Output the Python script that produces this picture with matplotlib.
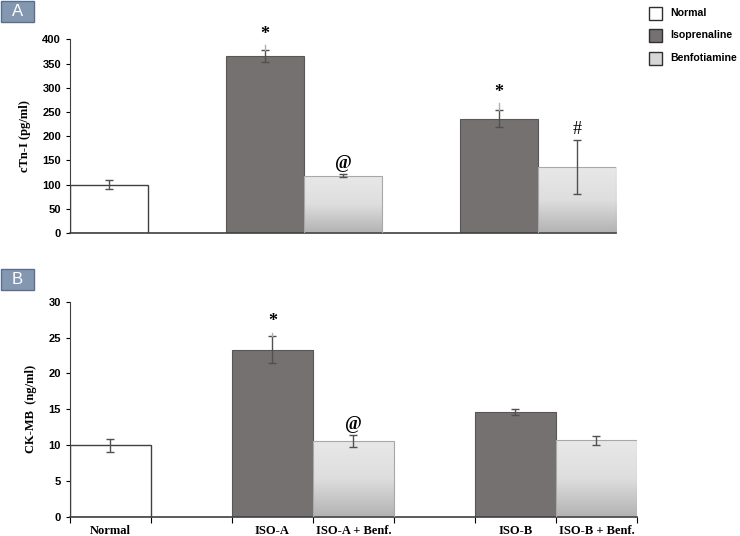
import numpy as np
import matplotlib.pyplot as plt
from matplotlib.patches import Rectangle
from matplotlib.colors import LinearSegmentedColormap

# data
groups = ['Normal', '', 'ISO-A', 'ISO-A + Benf.', '', 'ISO-B', 'ISO-B + Benf.']
kinds = ['normal', None, 'iso', 'benf', None, 'iso', 'benf']

ctni_vals = [100, 0, 365, 118, 0, 236, 136]
ctni_err = [10, 0, 12, 3, 0, 17, 56]
ctni_whisker_top = [0, 0, 389, 0, 0, 269, 0]   # faint upper line above the cap
ctni_marks = ['', '', '*', '@', '', '*', '#']

ckmb_vals = [10.0, 0, 23.3, 10.6, 0, 14.6, 10.7]
ckmb_err = [0.9, 0, 1.9, 0.85, 0, 0.45, 0.65]
ckmb_whisker_top = [0, 0, 25.7, 0, 0, 0, 0]
ckmb_marks = ['', '', '*', '@', '', '', '']

legend_labels = ['Normal', 'Isoprenaline', 'Benfotiamine']

iso_color = '#767171'
edge_color = '#404040'
box_color = '#8497b0'
benf_cmap = LinearSegmentedColormap.from_list('benf', ['#e8e8e8', '#dedede', '#b2b2b2'])

serif = ['Liberation Serif', 'DejaVu Serif']
sans = ['Liberation Sans', 'DejaVu Sans']

fig = plt.figure(figsize=(7.4, 5.36), dpi=100)

grad = np.linspace(0, 1, 256).reshape(-1, 1)


def draw_panel(ax, vals, errs, whisk, marks, ymax, ystep, ylabel, mark_off, show_xticks):
    x = np.arange(len(vals))
    for i, (v, e, k) in enumerate(zip(vals, errs, kinds)):
        if k is None:
            continue
        if k == 'normal':
            ax.bar(i, v, width=1.0, align='edge', color='white', edgecolor=edge_color, lw=1.0, zorder=2)
        elif k == 'iso':
            ax.bar(i, v, width=1.0, align='edge', color=iso_color, edgecolor='#5a5656', lw=0.8, zorder=2)
        else:
            r = Rectangle((i, 0), 1.0, v, facecolor='none', edgecolor='#a8a8a8', lw=0.8, zorder=3)
            ax.add_patch(r)
            im = ax.imshow(grad, cmap=benf_cmap, vmin=0, vmax=1, aspect='auto',
                           extent=(i, i + 1, 0, v), origin='upper', zorder=2)
            im.set_clip_path(r)
        ax.errorbar(i + 0.5, v, yerr=e, fmt='none', ecolor='#505050', elinewidth=1.0,
                    capsize=3, capthick=1.0, zorder=4)
        top = v + e
        if whisk[i] > top:
            ax.plot([i + 0.5, i + 0.5], [top, whisk[i]], color='#b0b0b0', lw=1.0, zorder=4)
            top = whisk[i]
        if marks[i]:
            ax.text(i + 0.5, top + mark_off, marks[i], ha='center', va='bottom',
                    fontsize=13, family=serif,
                    fontweight='normal' if marks[i] == '#' else 'bold')
    ax.set_xlim(0, len(vals))
    ax.set_ylim(0, ymax)
    ax.set_yticks(np.arange(0, ymax + ystep / 2, ystep))
    ax.tick_params(axis='y', labelsize=8, length=3, direction='out')
    for t in ax.get_yticklabels():
        t.set_fontweight('bold')
        t.set_family(sans)
    ax.set_ylabel(ylabel, fontsize=9, fontweight='bold', family=serif, labelpad=8)
    for s in ['top', 'right']:
        ax.spines[s].set_visible(False)
    ax.spines['left'].set_color('#404040')
    ax.spines['bottom'].set_color('#404040')
    ax.spines['bottom'].set_linewidth(1.2)
    if show_xticks:
        ax.set_xticks(np.arange(0, len(vals) + 1))
        ax.set_xticklabels([])
        ax.set_xticks(x + 0.5, minor=True)
        ax.set_xticklabels(groups, minor=True, fontsize=9, fontweight='bold', family=serif)
        ax.tick_params(axis='x', which='minor', length=0, pad=6)
        ax.tick_params(axis='x', which='major', length=4, direction='out')
    else:
        ax.set_xticks([])


ax1 = fig.add_axes([0.0946, 0.5653, 0.738, 0.3614])
draw_panel(ax1, ctni_vals, ctni_err, ctni_whisker_top, ctni_marks, 400, 50,
           'cTn-I (pg/ml)', 4, False)

ax2 = fig.add_axes([0.0946, 0.0355, 0.766, 0.4017])
draw_panel(ax2, ckmb_vals, ckmb_err, ckmb_whisker_top, ckmb_marks, 30, 5,
           'CK-MB  (ng/ml)', 0.3, True)

# panel letters
for txt, yb in [('A', 1 - 22 / 536), ('B', 1 - 290 / 536)]:
    fig.patches.append(Rectangle((0.001, yb), 33 / 740, 21 / 536, transform=fig.transFigure,
                                 facecolor=box_color, edgecolor='#5a6f8c', lw=1.0))
    fig.text(0.001 + 16.5 / 740, yb + 10.5 / 536, txt, ha='center', va='center',
             color='white', fontsize=12, family=sans)

# legend
leg_faces = ['white', iso_color, '#d6d6d6']
for j, (lab, fc) in enumerate(zip(legend_labels, leg_faces)):
    yc = 1 - (13 + j * 22.5) / 536
    fig.patches.append(Rectangle((649 / 740, yc - 6.5 / 536), 13 / 740, 13 / 536,
                                 transform=fig.transFigure, facecolor=fc,
                                 edgecolor='#303030', lw=1.0))
    fig.text(670 / 740, yc, lab, ha='left', va='center', fontsize=7.6,
             fontweight='bold', family=sans)

fig.savefig('out.png', dpi=100)
